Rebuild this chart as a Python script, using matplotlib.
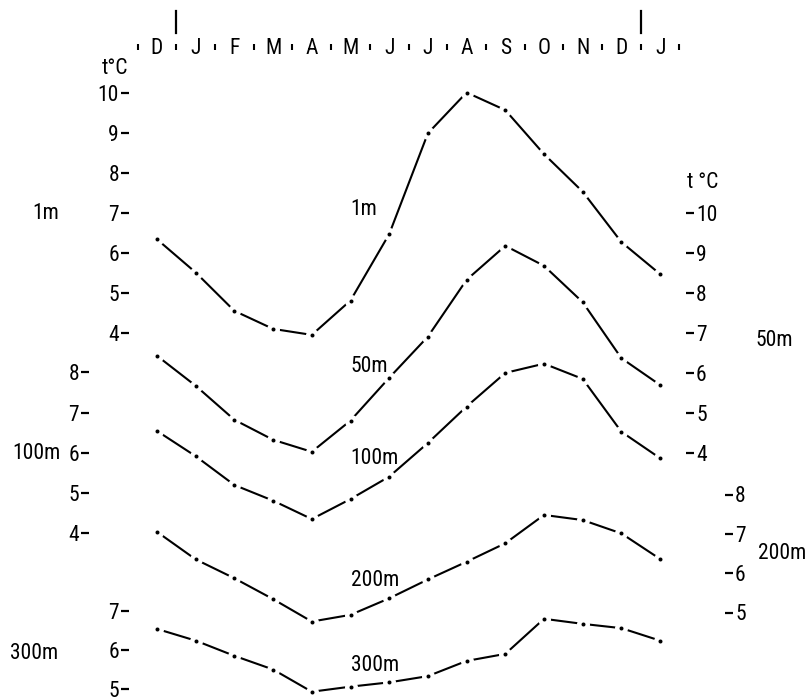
import matplotlib
matplotlib.use("Agg")
import matplotlib.pyplot as plt
import matplotlib.transforms as mtransforms
from matplotlib import font_manager

# ---------------- data ----------------
months = ["D", "J", "F", "M", "A", "M", "J", "J", "A", "S", "O", "N", "D", "J"]

t_1m = [6.33, 5.50, 4.54, 4.09, 3.94, 4.80, 6.46, 8.98, 10.0, 9.56, 8.46, 7.52, 6.26, 5.46]
t_50m = [6.43, 5.68, 4.83, 4.33, 4.03, 4.81, 5.88, 6.91, 8.33, 9.18, 8.68, 7.77, 6.37, 5.70]
t_100m = [6.54, 5.91, 5.19, 4.80, 4.34, 4.84, 5.40, 6.24, 7.15, 7.99, 8.22, 7.84, 6.52, 5.86]
t_200m = [7.05, 6.35, 5.87, 5.34, 4.77, 4.94, 5.36, 5.84, 6.29, 6.76, 7.48, 7.35, 7.01, 6.36]
t_300m = [6.54, 6.24, 5.85, 5.50, 4.93, 5.06, 5.17, 5.33, 5.72, 5.90, 6.80, 6.67, 6.56, 6.24]

ticks_1m = [4, 5, 6, 7, 8, 9, 10]
ticks_50m = [4, 5, 6, 7, 8, 9, 10]
ticks_100m = [4, 5, 6, 7, 8]
ticks_200m = [5, 6, 7, 8]
ticks_300m = [5, 6, 7]

# ---------------- fonts ----------------
names = {f.name for f in font_manager.fontManager.ttflist}
fam = "DejaVu Sans"
for cand in ["Liberation Sans Narrow", "DejaVu Sans Condensed", "Roboto Condensed"]:
    if cand in names:
        fam = cand
        break
plt.rcParams["font.family"] = [fam, "DejaVu Sans"]
plt.rcParams["font.stretch"] = "condensed"
FS = 15.5

# ---------------- layout ----------------
W, H = 809, 699
fig = plt.figure(figsize=(W / 100, H / 100), dpi=100)
fig.patch.set_facecolor("white")

X0_PX, DX_PX = 157.0, 38.7
AX_L, AX_R = 129.0, 686.0
XLIM = ((AX_L - X0_PX) / DX_PX, (AX_R - X0_PX) / DX_PX)
PT = 0.72  # points per pixel at 100 dpi


def make_axes(t_a, y_a, t_b, y_b):
    """Axes over the full height whose y scale puts t_a at pixel row y_a and t_b at y_b."""
    k = (y_b - y_a) / (t_a - t_b)
    t_top = t_a + y_a / k
    t_bot = t_a - (H - y_a) / k
    ax = fig.add_axes([AX_L / W, 0, (AX_R - AX_L) / W, 1])
    ax.set_xlim(*XLIM)
    ax.set_ylim(t_bot, t_top)
    ax.patch.set_visible(False)
    for s in ax.spines.values():
        s.set_visible(False)
    ax.set_xticks([])
    return ax


def style_ticks(ax, ticks, side, outward_px=0):
    ax.set_yticks(ticks)
    ax.set_yticklabels([str(t) for t in ticks])
    if side == "right":
        ax.yaxis.tick_right()
    else:
        ax.yaxis.tick_left()
    ax.spines[side].set_position(("outward", outward_px * PT))
    ax.tick_params(axis="y", direction="out", length=8 * PT, width=1.6,
                   pad=1.5, labelsize=FS, colors="black")


def draw_curve(ax, vals):
    x = list(range(len(vals)))
    ax.plot(x, vals, color="black", lw=1.5, solid_capstyle="butt",
            solid_joinstyle="round", zorder=2)
    ax.plot(x, vals, ls="none", marker="o", ms=13 * PT, mfc="white", mec="none", zorder=3)
    ax.plot(x, vals, ls="none", marker="o", ms=4 * PT, mfc="black", mec="none", zorder=4)


def label_on(ax, t, text):
    ax.text(5.0, t, text, ha="left", va="baseline", fontsize=FS)


# 1 m  (left scale, 4 at row 332.5, 10 at row 92.5)
ax1 = make_axes(4, 332.5, 10, 92.5)
style_ticks(ax1, ticks_1m, "left")
draw_curve(ax1, t_1m)
label_on(ax1, 6.94, "1m")

# 50 m (right scale, 4 at row 453, 10 at row 213)
ax50 = make_axes(4, 453, 10, 213)
style_ticks(ax50, ticks_50m, "right")
draw_curve(ax50, t_50m)
label_on(ax50, 6.03, "50m")

# 100 m (left scale, 4 at row 532.7, 8 at row 372.5)
ax100 = make_axes(4, 532.7, 8, 372.5)
style_ticks(ax100, ticks_100m, "left", outward_px=40)
draw_curve(ax100, t_100m)
label_on(ax100, 5.72, "100m")

# 200 m (right scale, 5 at row 612.5, 8 at row 494.5)
ax200 = make_axes(5, 612.5, 8, 494.5)
style_ticks(ax200, ticks_200m, "right", outward_px=39)
draw_curve(ax200, t_200m)
label_on(ax200, 5.67, "200m")

# 300 m (left scale, 5 at row 689, 7 at row 611)
ax300 = make_axes(5, 689, 7, 611)
style_ticks(ax300, ticks_300m, "left")
draw_curve(ax300, t_300m)
label_on(ax300, 5.47, "300m")

# ---------------- month header ----------------
HB, HT = 50.0, 36.0  # header axes bottom / top rows
axh = fig.add_axes([AX_L / W, 1 - HB / H, (AX_R - AX_L) / W, (HB - HT) / H])
axh.set_xlim(*XLIM)
axh.set_ylim(0, 1)
axh.patch.set_visible(False)
for s in axh.spines.values():
    s.set_visible(False)
axh.set_yticks([])
axh.set_xticks([])
axh.set_xticks([i - 0.5 for i in range(len(months) + 1)], minor=True)
axh.tick_params(axis="x", which="minor", direction="in", length=6 * PT, width=1.5,
                bottom=True, top=False, labelbottom=False)
tr = mtransforms.blended_transform_factory(axh.transData, fig.transFigure)
for i, m in enumerate(months):
    axh.text(i, 1 - 54 / H, m, transform=tr, ha="center", va="baseline", fontsize=FS)
for xb in (0.5, 12.5):
    axh.axvline(xb, ymin=(HB - 33) / (HB - HT), ymax=(HB - 11) / (HB - HT),
                color="black", lw=1.6, clip_on=False)

# ---------------- axis titles and depth labels ----------------
def ftext(xpx, ypx, s, ha="left"):
    fig.text(xpx / W, 1 - ypx / H, s, ha=ha, va="baseline", fontsize=FS)

ftext(115, 74, "t°C", ha="center")
ftext(687, 188, "t °C")
ftext(32, 219, "1m")
ftext(12, 459, "100m")
ftext(10, 659, "300m")
ftext(755, 346, "50m")
ftext(758, 559, "200m")

fig.savefig("out.png", dpi=100, facecolor="white")
